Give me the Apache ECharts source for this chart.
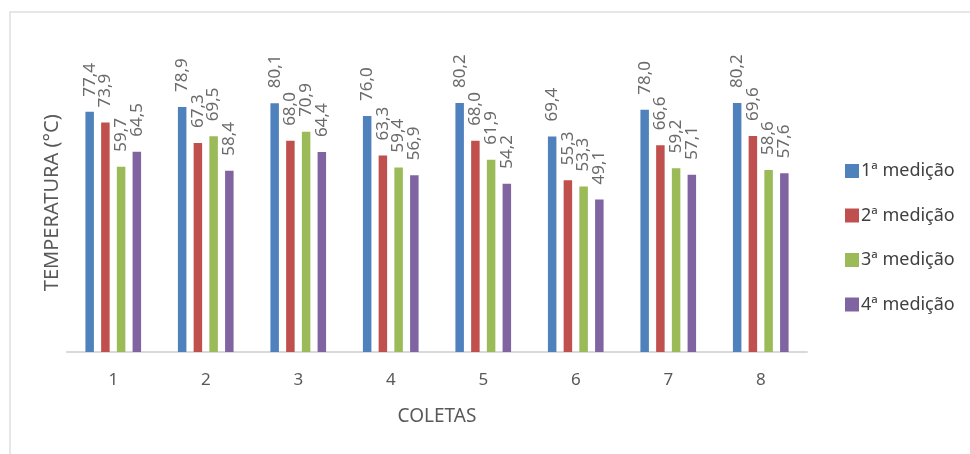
<!DOCTYPE html>
<html>
<head>
<meta charset="utf-8">
<script src="https://cdn.jsdelivr.net/npm/echarts@6/dist/echarts.min.js"></script>
<style>
  html, body { margin: 0; padding: 0; background: #fff; }
  #chart { width: 970px; height: 454px; }
</style>
</head>
<body>
<div id="chart"></div>
<script>
  const categories = ['1', '2', '3', '4', '5', '6', '7', '8'];
  const seriesNames = ['1ª medição', '2ª medição', '3ª medição', '4ª medição'];
  const med1 = [77.4, 78.9, 80.1, 76.0, 80.2, 69.4, 78.0, 80.2];
  const med2 = [73.9, 67.3, 68.0, 63.3, 68.0, 55.3, 66.6, 69.6];
  const med3 = [59.7, 69.5, 70.9, 59.4, 61.9, 53.3, 59.2, 58.6];
  const med4 = [64.5, 58.4, 64.4, 56.9, 54.2, 49.1, 57.1, 57.6];
  const colors = ['#4f81bd', '#c0504d', '#9bbb59', '#8064a2'];

  const font = "'Noto Sans', 'Open Sans', sans-serif";
  const chart = echarts.init(document.getElementById('chart'));

  const makeSeries = (name, values, i) => ({
    name: name,
    type: 'bar',
    data: values,
    barWidth: 8.5,
    barGap: '85%',
    itemStyle: { color: colors[i] },
    label: {
      show: true,
      position: 'top',
      rotate: 90,
      align: 'left',
      verticalAlign: 'middle',
      distance: 15,
      color: '#6b6b6b',
      fontFamily: font,
      fontSize: 17,
      formatter: (p) => p.value.toFixed(1).replace('.', ','),
    },
  });

  const option = {
    animation: false,
    textStyle: { fontFamily: font },
    graphic: [
      {
        type: 'rect',
        shape: { x: 10, y: 12, width: 990, height: 480 },
        style: { fill: 'none', stroke: '#dedede', lineWidth: 1.5 },
        silent: true,
      },
    ],
    legend: {
      orient: 'vertical',
      left: 840,
      top: 157,
      itemWidth: 14,
      itemHeight: 14,
      itemGap: 26.5,
      icon: 'rect',
      textStyle: { color: '#404040', fontSize: 18, fontFamily: font, padding: [0, 0, 0, -3] },
      data: seriesNames,
    },
    grid: {
      left: 67,
      right: 163,
      top: 41.5,
      bottom: 102,
    },
    xAxis: {
      type: 'category',
      data: categories,
      name: 'COLETAS',
      nameLocation: 'middle',
      nameGap: 55,
      nameTextStyle: { color: '#595959', fontSize: 19, fontFamily: font },
      axisLine: { lineStyle: { color: '#d9d9d9', width: 2 } },
      axisTick: { show: false },
      axisLabel: { color: '#595959', fontSize: 17, margin: 20, fontFamily: font },
    },
    yAxis: {
      type: 'value',
      min: 0,
      max: 100,
      interval: 10,
      name: 'TEMPERATURA (°C)',
      nameLocation: 'middle',
      nameRotate: 90,
      nameGap: 5,
      nameTextStyle: { color: '#595959', fontSize: 20, fontFamily: font, padding: [0, 12, 0, 0] },
      axisLine: { show: false },
      axisTick: { show: false },
      axisLabel: { show: false },
      splitLine: { show: false },
    },
    series: [
      makeSeries(seriesNames[0], med1, 0),
      makeSeries(seriesNames[1], med2, 1),
      makeSeries(seriesNames[2], med3, 2),
      makeSeries(seriesNames[3], med4, 3),
    ],
  };

  chart.setOption(option);
</script>
</body>
</html>
